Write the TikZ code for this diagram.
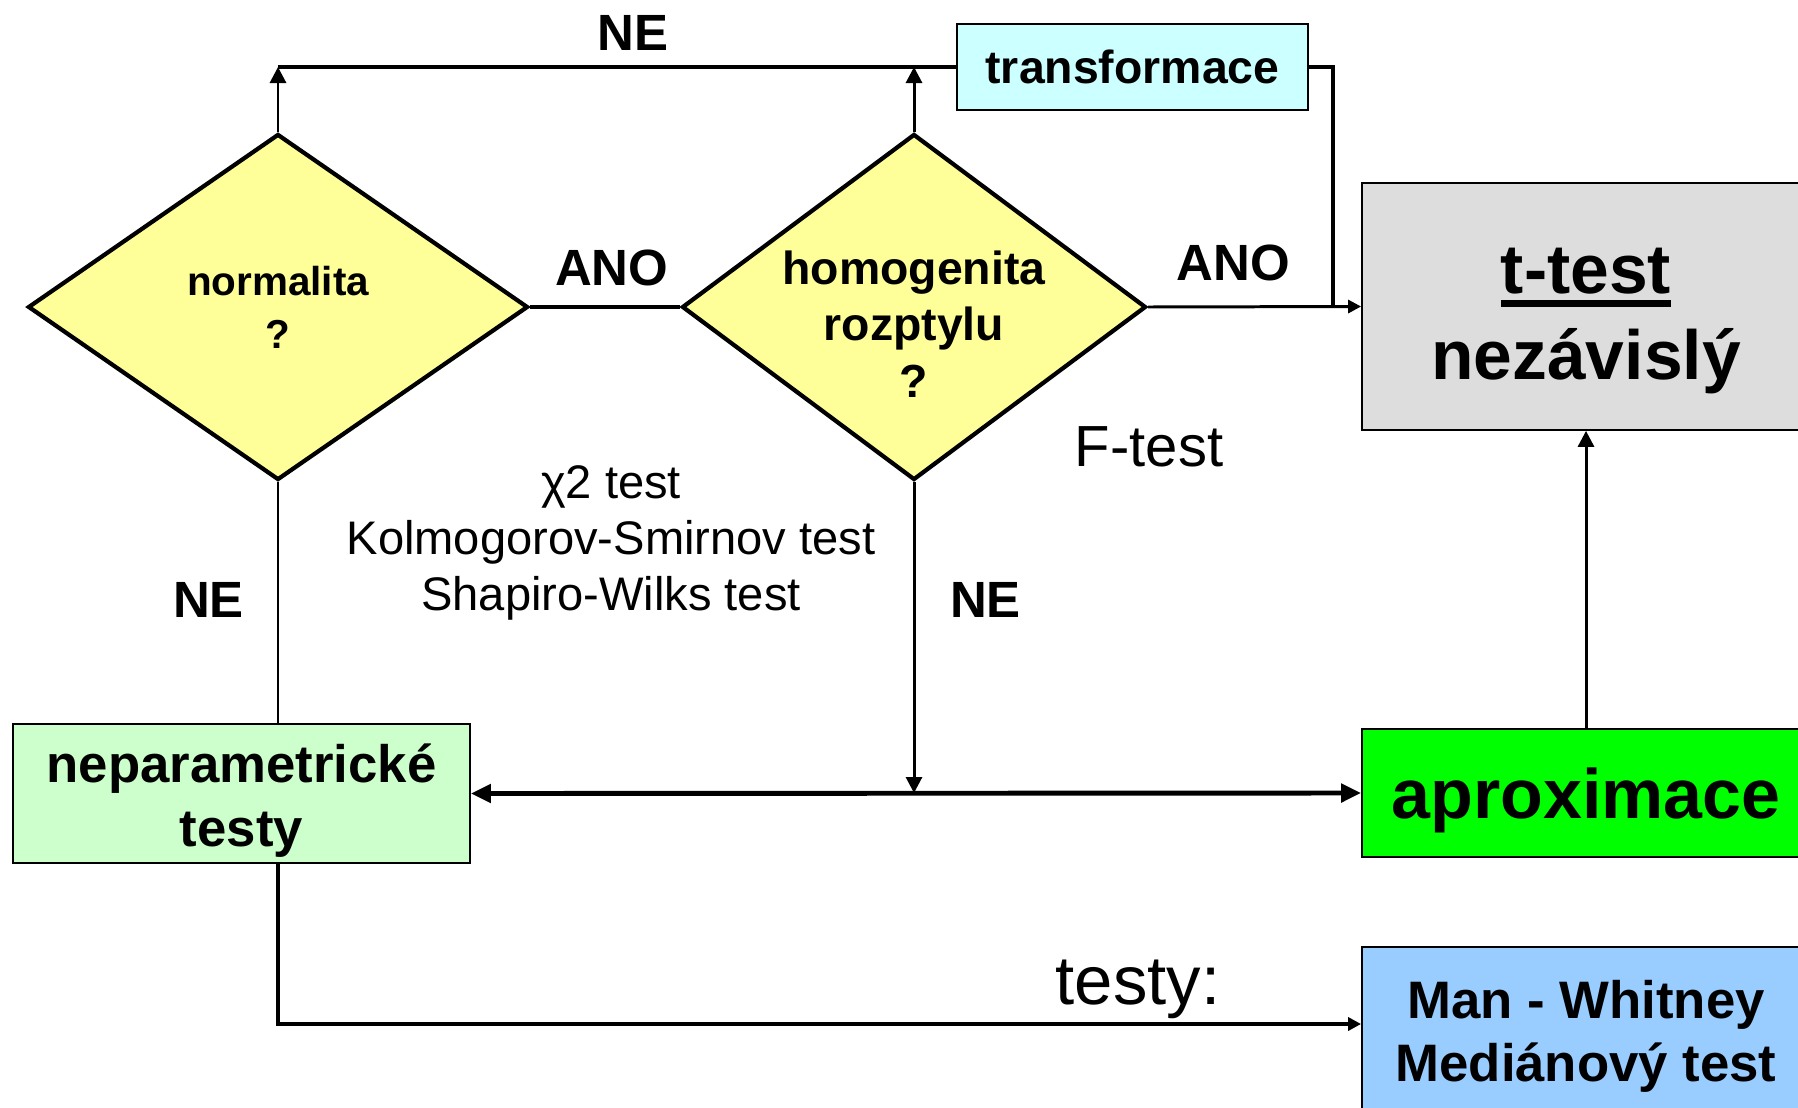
\documentclass[tikz,border=0pt]{standalone}
\usepackage{fontspec}
\setmainfont{Liberation Sans}
\usetikzlibrary{shapes.geometric,arrows.meta,positioning}

\definecolor{qyellow}{HTML}{FFFF99}
\definecolor{trcyan}{HTML}{CCFFFF}
\definecolor{ttgray}{HTML}{DDDDDD}
\definecolor{npgreen}{HTML}{CCFFCC}
\definecolor{apgreen}{HTML}{00FF00}
\definecolor{mwblue}{HTML}{99CCFF}

\newcommand{\fatul}[1]{\setbox0=\hbox{#1}\rlap{\rule[-4pt]{\wd0}{2pt}}\box0}

\tikzstyle{question} = [draw, diamond, line width=1.2pt, fill=qyellow, minimum height=3.46cm, inner sep=0pt, text centered, align=center]
\tikzstyle{block} = [draw, rectangle, line width=0.5pt, text centered, align=center]
\tikzstyle{arrow} = [line width=0.85pt,->,>={Triangle[length=1.6mm,width=1.6mm]}]
\tikzstyle{link} = [line width=0.85pt]
\tikzstyle{answer} = [inner sep=1pt, font=\fontsize{14.5}{17}\selectfont\bfseries]
\tikzstyle{testname} = [inner sep=1pt, align=center]

\begin{document}
\begin{tikzpicture}

\clip (0,0) rectangle (17.98,11.07);
\fill [white] (0,0) rectangle (17.98,11.07);

% Questions
\node (normal) [question, minimum width=5cm, font=\fontsize{11.5}{15}\selectfont\bfseries] at (2.78,8.00) {normalita\\?};
\node (homog) [question, minimum width=4.64cm] at (9.14,8.00) {};
\node (homogtext) [align=center, font=\fontsize{13.2}{16}\selectfont\bfseries] at ([yshift=-0.17cm]homog.center) {homogenita\\rozptylu\\?};

% Boxes
\node (transf) [block, fill=trcyan, minimum width=3.51cm, minimum height=0.86cm, font=\fontsize{13.2}{16}\selectfont\bfseries] at (11.325,10.40) {transformace};
\node (ttest) [block, fill=ttgray, minimum width=4.48cm, minimum height=2.47cm, font=\fontsize{19.8}{24.5}\selectfont\bfseries] at (15.86,8.005) {\rule{0pt}{21pt}\fatul{t-test}\\nezávislý};
\node (aprox) [block, fill=apgreen, minimum width=4.48cm, minimum height=1.28cm, text depth=0pt, font=\fontsize{19.9}{24}\selectfont\bfseries, below of=ttest, node distance=4.865cm] {aproximace};
\node (mw) [block, fill=mwblue, minimum width=4.48cm, minimum height=1.7cm, font=\fontsize{15}{18}\selectfont\bfseries, below of=aprox, node distance=2.39cm] {\rule{0pt}{13.5pt}Man - Whitney\\Mediánový test};
\node (neparam) [block, fill=npgreen, minimum width=4.57cm, minimum height=1.39cm, inner ysep=1pt, font=\fontsize{15}{18}\selectfont\bfseries] at (2.415,3.135) {\rule{0pt}{15pt}neparametrické\\testy};

% Test names
\node (normtests) [testname, font=\fontsize{13.4}{16}\selectfont] at (6.11,5.64) {χ2 test\\Kolmogorov-Smirnov test\\Shapiro-Wilks test};
\node (ftest) [testname, font=\fontsize{16.5}{20}\selectfont] at (11.49,6.60) {F-test};

% Arrows
\draw [arrow] (normal.north) -- (normal.north |- transf.west);
\draw [arrow] (homog.north) -- (homog.north |- transf.west);
\draw [link, line width=1.15pt] (transf.west) -- node[answer, above=0.11cm, pos=0.477] {NE} (normal.north |- transf.west);
\draw [link, line width=1.15pt] (transf.east) -| ([xshift=-0.28cm]ttest.west);
\draw [link, line width=1pt] (normal.east) -- node[answer, above=0.16cm, pos=0.545] {ANO} (homog.west);
\draw [arrow, >={Triangle[length=1.3mm,width=1.3mm]}] (homog.east) -- node[answer, above=0.21cm, pos=0.4] {ANO} (ttest.west);
\draw [link] (normal.south) -- node[answer, left=0.29cm, pos=0.49] {NE} (normal.south |- neparam.north);
\draw [arrow] (homog.south) -- node[answer, right=0.31cm, pos=0.38] {NE} (homog.south |- aprox.west);
\draw [arrow, <->, line width=1.4pt, >={Triangle[length=2mm,width=1.8mm]}] (neparam.east) -- (aprox.west);
\draw [arrow] (aprox.north) -- (ttest.south);
\draw [arrow, line width=0.95pt, >={Triangle[length=1.3mm,width=1.3mm]}] (normal.south |- neparam.south) |- node[testname, above=0cm, pos=0.897, font=\fontsize{19.6}{22}\selectfont] {testy:} ([yshift=0.08cm]mw.west);

\end{tikzpicture}
\end{document}
